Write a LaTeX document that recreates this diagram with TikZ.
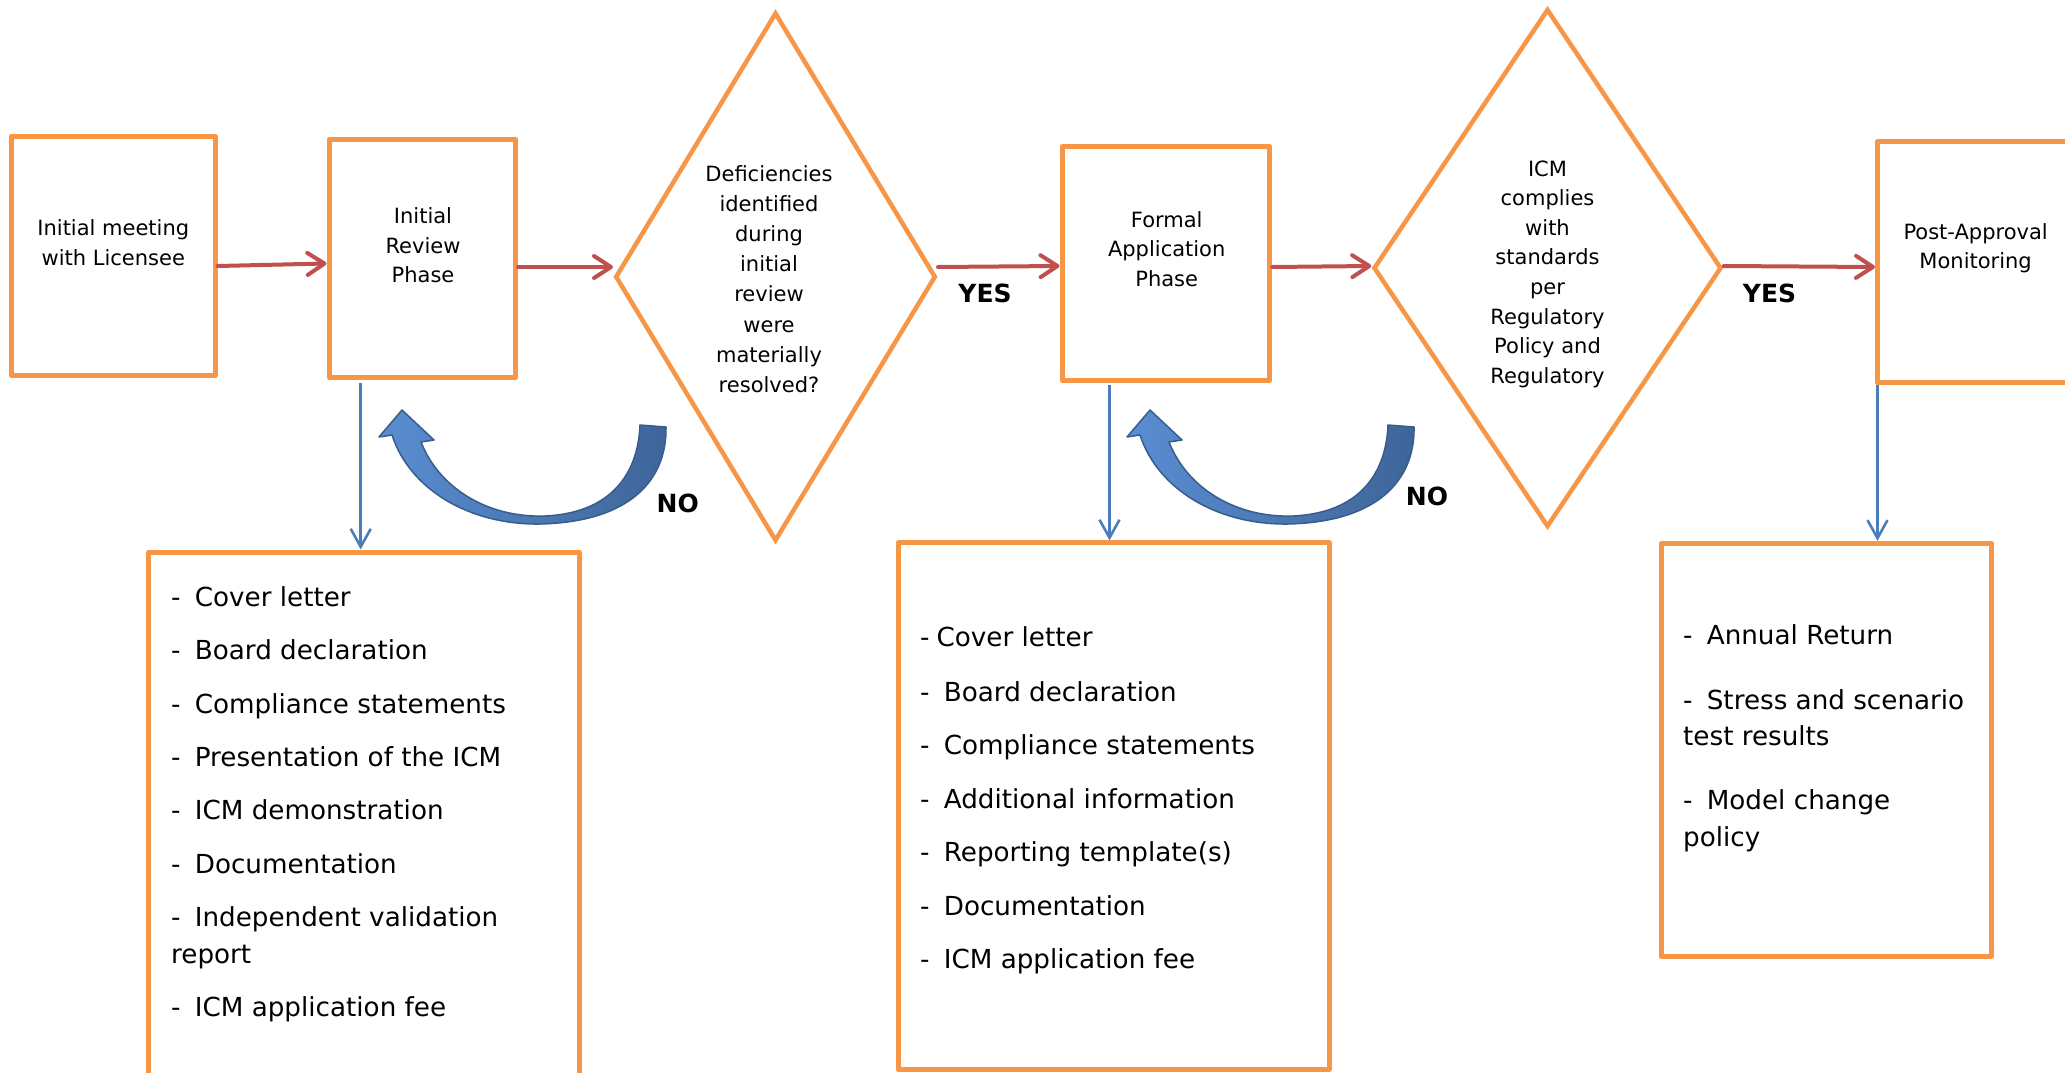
\documentclass[tikz,border=0pt]{standalone}
\usepackage{fontspec}
\setmainfont{DejaVu Sans}
\usetikzlibrary{arrows.meta,shapes.geometric,calc}
\definecolor{orng}{HTML}{F79646}
\definecolor{redarr}{HTML}{C0504D}
\definecolor{bluarr}{HTML}{4A7EBB}
\definecolor{curvL}{HTML}{5A8DD2}
\definecolor{curvD}{HTML}{3E6599}
\definecolor{curvE}{HTML}{385D8A}
\newcommand\lidash{-\hspace{14.2pt}}
\tikzset{
 box/.style={draw=orng, line width=5pt, line join=round, rectangle, inner sep=0pt},
 dia/.style={draw=orng, line width=4.5pt, diamond, inner sep=0pt, aspect=0.6},
 lbl/.style={font=\fontsize{21}{29.5}\selectfont, align=center, inner sep=0pt},
 dlbl/.style={font=\fontsize{21}{30.2}\selectfont, align=center, inner sep=0pt},
 item/.style={font=\fontsize{26.2}{37}\selectfont, anchor=base west, inner sep=0pt},
 yn/.style={font=\bfseries\fontsize{25}{25}\selectfont, inner sep=0pt},
 redarrow/.style={draw=redarr, line width=4pt, line cap=round, -{Straight Barb[length=17pt,width=22pt,round]}},
 bluearrow/.style={draw=bluarr, line width=2.6pt, -{Straight Barb[length=18pt,width=20pt]}},
 curved/.style={draw=curvE, line width=1.5pt, line join=round, left color=curvL, right color=curvD},
}
\begin{document}
\begin{tikzpicture}[x=1pt,y=-1pt]
\useasboundingbox (0,0) rectangle (2065,1073);
\clip (0,0) rectangle (2065,1073);
\fill[white] (0,0) rectangle (2065,1073);

% top row
\node[box, minimum width=204pt, minimum height=239.5pt] (b1) at (113,255.75) {};
\node[lbl] (t1) at (113.3,242.5) {Initial meeting\\with Licensee};
\node[box, minimum width=186.6pt, minimum height=238.4pt] (b2) at (422.3,258.5) {};
\node[lbl] (t2) at (423,245.6) {Initial\\Review\\Phase};
\node[dia, minimum width=320.5pt, minimum height=528.5pt] (d1) at (775.5,276.8) {};
\node[dlbl] (t3) at (769,279) {Deficiencies\\identified\\during\\initial\\review\\were\\materially\\resolved?};
\node[box, minimum width=207.8pt, minimum height=233.6pt] (b3) at (1165.9,263.2) {};
\node[lbl] (t4) at (1166.7,249) {Formal\\Application\\Phase};
\node[dia, minimum width=348pt, minimum height=518pt] (d2) at (1547.5,268) {};
\node[dlbl, font=\fontsize{21}{29.6}\selectfont] (t5) at (1547.5,274) {ICM\\complies\\with\\standards\\per\\Regulatory\\Policy and\\Regulatory};
\node[box, minimum width=197pt, minimum height=241pt] (b4) at (1976,262.2) {};
\node[lbl] (t6) at (1975.6,248.4) {Post-Approval\\Monitoring};

% lower boxes
\node[box, minimum width=431.3pt, minimum height=538pt] (L1) at (364.3,821) {};
\node[box, minimum width=431pt, minimum height=526.5pt] (L2) at (1113.5,806.2) {};
\node[box, minimum width=330pt, minimum height=413.2pt] (L3) at (1826.5,749.9) {};

% list 1
\node[item] (l1a) at (171,606.5) {\lidash Cover letter};
\node[item] (l1b) at (171,659.8) {\lidash Board declaration};
\node[item] (l1c) at (171,713.1) {\lidash Compliance statements};
\node[item] (l1d) at (171,766.4) {\lidash Presentation of the ICM};
\node[item] (l1e) at (171,819.7) {\lidash ICM demonstration};
\node[item] (l1f) at (171,873) {\lidash Documentation};
\node[item] (l1g) at (171,926.3) {\lidash Independent validation};
\node[item] (l1h) at (171,963.3) {report};
\node[item] (l1i) at (171,1016.6) {\lidash ICM application fee};

% list 2
\node[item] (l2a) at (920,646) {-\hspace{7pt}Cover letter};
\node[item] (l2b) at (920,701) {\lidash Board declaration};
\node[item] (l2c) at (920,754.5) {\lidash Compliance statements};
\node[item] (l2d) at (920,808) {\lidash Additional information};
\node[item] (l2e) at (920,861.5) {\lidash Reporting template(s)};
\node[item] (l2f) at (920,915) {\lidash Documentation};
\node[item] (l2g) at (920,968.5) {\lidash ICM application fee};

% list 3
\node[item] (l3a) at (1683,644.5) {\lidash Annual Return};
\node[item] (l3b) at (1683,709) {\lidash Stress and scenario};
\node[item] (l3c) at (1683,745.5) {test results};
\node[item] (l3d) at (1683,809.5) {\lidash Model change};
\node[item] (l3e) at (1683,846) {policy};

% red arrows
\draw[redarrow] ([yshift=-10.25pt]b1.east) -- ([yshift=-5pt]b2.west);
\draw[redarrow] ([yshift=-8.5pt]b2.east) -- ([yshift=9.8pt]d1.west);
\draw[redarrow] ([yshift=9.8pt]d1.east) -- ([yshift=-2.8pt]b3.west);
\draw[redarrow] ([yshift=-3.8pt]b3.east) -- ([yshift=2pt]d2.west);
\draw[redarrow] ([yshift=2pt]d2.east) -- ([yshift=-4.8pt]b4.west);

% blue arrows
\draw[bluearrow] ([xshift=-61.6pt,yshift=-2.5pt]b2.south) coordinate (s1) -- (s1 |- L1.north);
\draw[bluearrow] ([xshift=-56.4pt,yshift=-2.5pt]b3.south) coordinate (s2) -- (s2 |- L2.north);
\draw[bluearrow] ([xshift=2.5pt]b4.south west) coordinate (s3) -- (s3 |- L3.north);

% curved return arrows
\path[curved] (666,427) .. controls (667,480) and (630,522) .. (540,524)
  .. controls (470,525) and (410,490) .. (392,435)
  -- (379,437) -- (402,410) -- (434,440) -- (421,442)
  .. controls (440,490) and (490,518) .. (545,516)
  .. controls (610,513) and (638,475) .. (640,425) -- cycle;
\begin{scope}[xshift=748pt]
\path[curved] (666,427) .. controls (667,480) and (630,522) .. (540,524)
  .. controls (470,525) and (410,490) .. (392,435)
  -- (379,437) -- (402,410) -- (434,440) -- (421,442)
  .. controls (440,490) and (490,518) .. (545,516)
  .. controls (610,513) and (638,475) .. (640,425) -- cycle;
\end{scope}

% YES / NO
\node[yn] (yes1) at (985,293) {YES};
\node[yn] (yes2) at (1769.5,293.5) {YES};
\node[yn] (no1) at (677.8,503) {NO};
\node[yn] (no2) at (1427,496.5) {NO};
\end{tikzpicture}
\end{document}
